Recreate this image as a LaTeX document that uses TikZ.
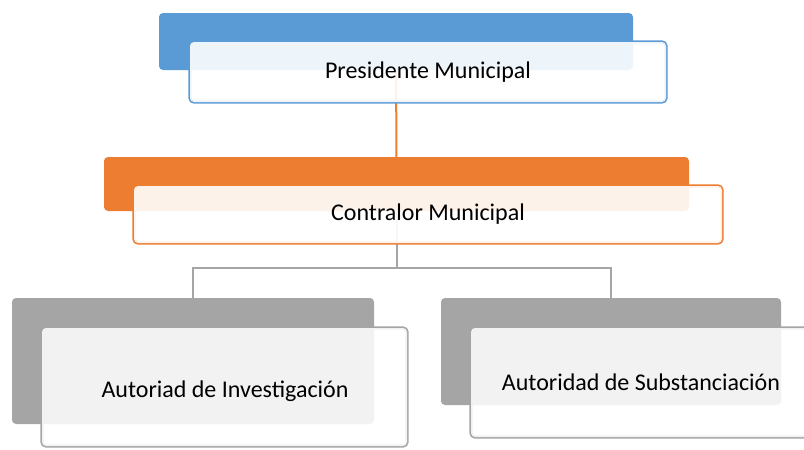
\documentclass[tikz,border=0pt]{standalone}
\usepackage{fontspec}
\setmainfont{Carlito}
\definecolor{cblue}{HTML}{5B9BD5}
\definecolor{corange}{HTML}{ED7D31}
\definecolor{cgray}{HTML}{A5A5A5}
\pgfdeclarelayer{bgl}
\pgfdeclarelayer{midl}
\pgfsetlayers{bgl,midl,main}
\tikzset{
  backbox/.style={rectangle, rounded corners=4pt, inner sep=0pt, outer sep=0pt, draw=none},
  frontbox/.style={rectangle, rounded corners=4pt, inner sep=0pt, outer sep=0pt, fill=white, fill opacity=0.9, text opacity=1, font=\fontsize{24}{28}\selectfont, text=black},
  frontline/.style={rounded corners=4pt, line width=3.2pt},
  conn/.style={line width=2pt}
}
\begin{document}
\begin{tikzpicture}[x=1pt,y=-1pt]
\useasboundingbox (0,0) rectangle (804,450);
\clip (0,0) rectangle (804,450);
% front nodes (with text)
\node[frontbox, minimum width=476pt, minimum height=60pt] (p1) at (428,72) {\raisebox{-1pt}{Presidente Municipal}};
\node[frontbox, minimum width=588pt, minimum height=57pt] (c1) at (428,214.5) {Contralor Municipal};
\node[frontbox, fill opacity=0.86, minimum width=365pt, minimum height=118pt] (l1) at (224.5,387) {};
\node[frontbox, fill opacity=0.86, minimum width=343pt, minimum height=109pt] (r1) at (642.5,382.5) {};
\node[font=\fontsize{24}{28}\selectfont] (lt) at (225,391) {Autoriad de Investigación};
\node[font=\fontsize{24}{28}\selectfont] (rt) at (641,382) {Autoridad de Substanciación};
% back boxes
\begin{pgfonlayer}{midl}
\node[backbox, fill=cblue, minimum width=474pt, minimum height=57pt] (p0) at (396,41.5) {};
\node[backbox, fill=corange, minimum width=585pt, minimum height=54pt] (c0) at (396.5,184) {};
\node[backbox, fill=cgray, minimum width=362pt, minimum height=126pt] (l0) at (193,361) {};
\node[backbox, fill=cgray, minimum width=340pt, minimum height=107pt] (r0) at (611,351.5) {};
\end{pgfonlayer}
% connectors and outlines
\begin{pgfonlayer}{bgl}
\coordinate (j) at (396.5,268);
\draw[conn, corange] (p0.center) -- (c0.center);
\draw[conn, cgray] (c0.center) -- (j);
\draw[conn, cgray] (l0.north) |- (j) -| (r0.north);
\draw[frontline, cblue] (p1.south west) rectangle (p1.north east);
\draw[frontline, corange] (c1.south west) rectangle (c1.north east);
\draw[frontline, cgray] (l1.south west) rectangle (l1.north east);
\draw[frontline, cgray] (r1.south west) rectangle (r1.north east);
\end{pgfonlayer}
\end{tikzpicture}
\end{document}
